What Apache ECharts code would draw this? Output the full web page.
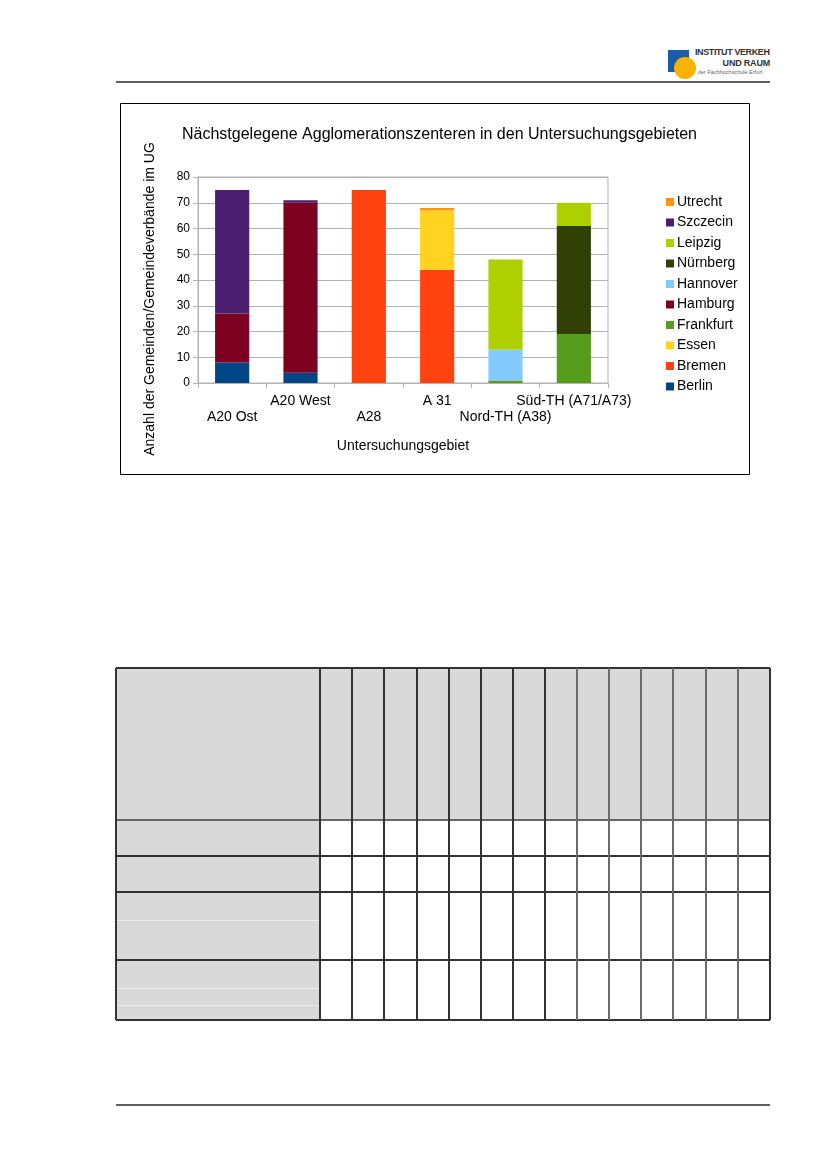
<!DOCTYPE html>
<html>
<head>
<meta charset="utf-8">
<script src="https://cdn.jsdelivr.net/npm/echarts@6/dist/echarts.min.js"></script>
<style>
  html, body { margin:0; padding:0; background:#fff; }
  body { width:827px; height:1169px; position:relative; overflow:hidden; font-family:"Liberation Sans", Arial, sans-serif; }
  #chart { position:absolute; left:0; top:0; width:827px; height:500px; }
  .hline { position:absolute; height:0; border-top:2px solid #5f5f5f; }
  .cell { position:absolute; box-sizing:border-box; }
</style>
</head>
<body>
<!-- header -->
<div class="hline" style="left:116px; top:81px; width:654px;"></div>
<div style="position:absolute; left:668px; top:50px; width:21px; height:22px; background:#1a5ca8;"></div>
<div style="position:absolute; left:674px; top:57px; width:22px; height:22px; border-radius:50%; background:#f7b300;"></div>
<div style="position:absolute; left:695px; top:47px; width:75px; overflow:hidden; white-space:nowrap; font:bold 9px 'Liberation Sans Narrow','Liberation Sans',sans-serif; letter-spacing:-0.4px; color:#333; line-height:10px;">INSTITUT VERKEHR</div>
<div style="position:absolute; left:695px; top:58px; width:75px; overflow:hidden; white-space:nowrap; text-align:right; font:bold 9px 'Liberation Sans Narrow','Liberation Sans',sans-serif; letter-spacing:-0.2px; color:#333; line-height:10px;">UND RAUM</div>
<div style="position:absolute; left:698px; top:69px; width:72px; overflow:hidden; white-space:nowrap; font:5.5px 'Liberation Sans',sans-serif; color:#666; line-height:7px;">der Fachhochschule Erfurt</div>
<!-- footer -->
<div class="hline" style="left:116px; top:1104px; width:654px;"></div>

<div id="chart"></div>
<div id="table"></div>

<script>
// ---- data ----
var categories = ['A20 Ost', 'A20 West', 'A28', 'A 31', 'Nord-TH (A38)', 'Süd-TH (A71/A73)'];
var seriesNames = ['Berlin', 'Bremen', 'Essen', 'Frankfurt', 'Hamburg', 'Hannover', 'Nürnberg', 'Leipzig', 'Szczecin', 'Utrecht'];
var berlin    = [8, 4, 0, 0, 0, 0];
var bremen    = [0, 0, 75, 44, 0, 0];
var essen     = [0, 0, 0, 23, 0, 0];
var frankfurt = [0, 0, 0, 0, 1, 19];
var hamburg   = [19, 66, 0, 0, 0, 0];
var hannover  = [0, 0, 0, 0, 12, 0];
var nuernberg = [0, 0, 0, 0, 0, 42];
var leipzig   = [0, 0, 0, 0, 35, 9];
var szczecin  = [48, 1, 0, 0, 0, 0];
var utrecht   = [0, 0, 0, 1, 0, 0];
var yTicks = [0, 10, 20, 30, 40, 50, 60, 70, 80];

var seriesValues = [berlin, bremen, essen, frankfurt, hamburg, hannover, nuernberg, leipzig, szczecin, utrecht];
var colors = ['#004586', '#ff420e', '#ffd320', '#579d1c', '#7e0021', '#83caff', '#314004', '#aecf00', '#4b1f6f', '#ff950e'];

var FONT = '"Liberation Sans", Arial, sans-serif';
var chart = echarts.init(document.getElementById('chart'), null, {renderer: 'canvas'});

var series = seriesNames.map(function (n, i) {
  return {
    name: n, type: 'bar', stack: 'total', barWidth: '50%',
    data: seriesValues[i].map(function (v) { return v === 0 ? null : v; }),
    itemStyle: { color: colors[i] },
    emphasis: { disabled: true }
  };
});

chart.setOption({
  animation: false,
  color: colors,
  textStyle: { fontFamily: FONT },
  title: {
    text: 'Nächstgelegene Agglomerationszenteren in den Untersuchungsgebieten',
    left: 177, top: 122,
    textStyle: { fontSize: 16, fontWeight: 'normal', color: '#000', fontFamily: FONT }
  },
  legend: {
    orient: 'vertical', left: 661, top: 189,
    data: seriesNames.slice().reverse(),
    icon: 'rect', itemWidth: 8, itemHeight: 8, itemGap: 4.5,
    textStyle: { fontSize: 14, color: '#000', fontFamily: FONT, lineHeight: 16, padding: [0, 0, 0, -2] },
    selectedMode: false
  },
  grid: {
    left: 198, right: 219, top: 177, bottom: 117,
    show: true, borderColor: '#b3b3b3', borderWidth: 1, backgroundColor: 'transparent'
  },
  xAxis: {
    type: 'category', data: categories,
    name: 'Untersuchungsgebiet', nameLocation: 'middle', nameGap: 56,
    nameTextStyle: { fontSize: 14, color: '#000', fontFamily: FONT },
    axisLine: { lineStyle: { color: '#b3b3b3' } },
    axisTick: { show: true, length: 5, lineStyle: { color: '#b3b3b3' } },
    axisLabel: {
      interval: 0, margin: 10, fontSize: 14, color: '#000', lineHeight: 16, fontFamily: FONT,
      formatter: function (v, i) { return i % 2 === 0 ? '\n' + v : v; }
    }
  },
  yAxis: {
    type: 'value', min: yTicks[0], max: yTicks[yTicks.length - 1], interval: 10,
    axisLine: { show: true, lineStyle: { color: '#b3b3b3' } },
    axisTick: { show: true, length: 5, lineStyle: { color: '#b3b3b3' } },
    axisLabel: { fontSize: 12, color: '#000', margin: 8, fontFamily: FONT },
    splitLine: { lineStyle: { color: '#b3b3b3' } }
  },
  graphic: [
    { type: 'rect', shape: { x: 120.5, y: 103.5, width: 629, height: 371 },
      style: { fill: 'none', stroke: '#000', lineWidth: 1 }, z: -1 },
    { type: 'text', x: 150, y: 299, rotation: Math.PI / 2,
      style: { text: 'Anzahl der Gemeinden/Gemeindeverbände im UG', fontSize: 14, fontFamily: FONT,
               fill: '#000', align: 'center', verticalAlign: 'middle' } }
  ],
  series: series
});

// ---- table (page decoration) ----
var colX = [320, 352, 384, 417, 449, 481, 513, 545, 577, 609, 641, 673, 706, 738, 770];
var rowY = [668, 820, 856, 892, 960, 1020];
var tbl = document.getElementById('table');
function addDiv(l, t, w, h, style) {
  var d = document.createElement('div');
  d.className = 'cell';
  d.style.left = l + 'px'; d.style.top = t + 'px'; d.style.width = w + 'px'; d.style.height = h + 'px';
  d.style.cssText += style;
  tbl.appendChild(d);
}
// gray backgrounds
addDiv(116, 668, 654, 152, 'background:#d9d9d9;');
addDiv(116, 820, 204, 200, 'background:#d9d9d9;');
// faint inner lines in first column
addDiv(117, 920, 202, 1, 'background:#ececec;');
addDiv(117, 988, 202, 1, 'background:#ececec;');
addDiv(117, 1005, 202, 1, 'background:#ececec;');
// horizontal lines
rowY.forEach(function (y, i) {
  addDiv(116, y - 1, 654, 2, 'background:' + (i === 1 ? '#666' : '#333') + ';');
});
// vertical lines
addDiv(115, 668, 2, 352, 'background:#333;');
colX.forEach(function (x, i) {
  addDiv(x - 1, 668, 2, 352, 'background:' + (i >= 8 && i < 14 ? '#6a6a6a' : '#333') + ';');
});
</script>
</body>
</html>
